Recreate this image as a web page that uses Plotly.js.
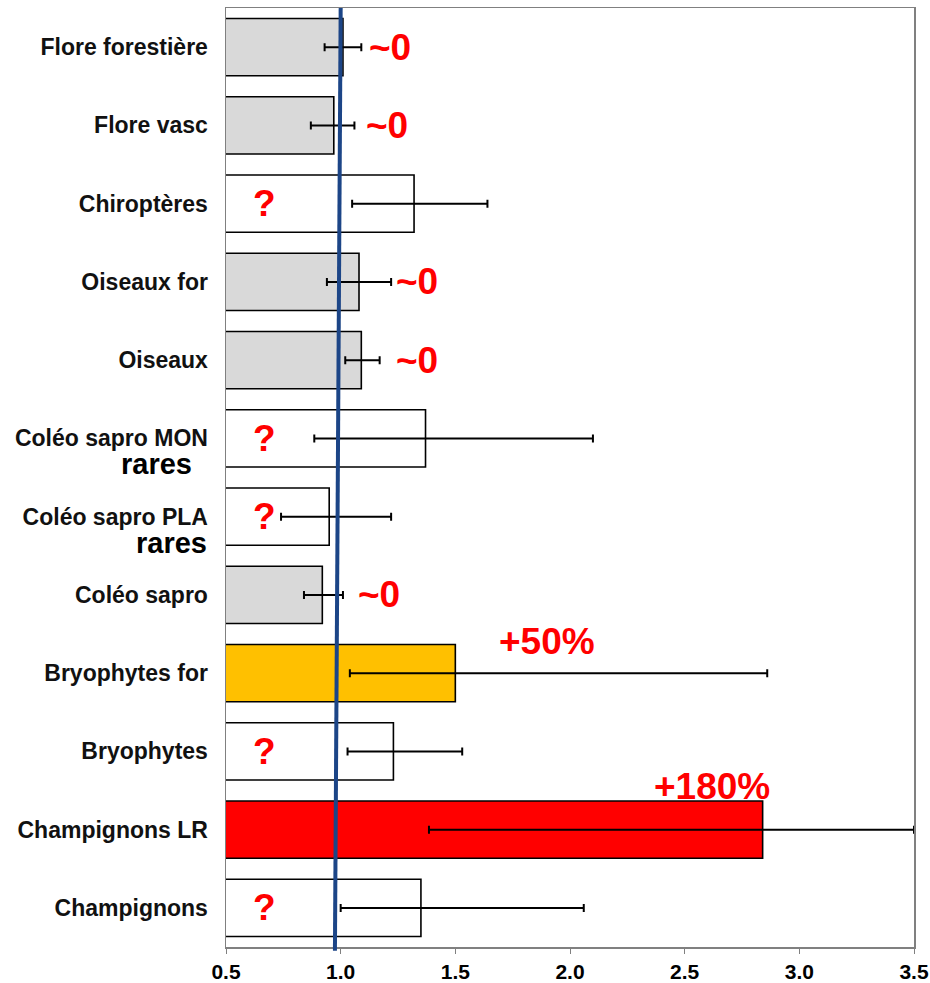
<!DOCTYPE html>
<html>
<head>
<meta charset="utf-8">
<script src="https://cdn.plot.ly/plotly-3.0.1.min.js"></script>
<style>html,body{margin:0;padding:0;background:#fff;}#chart{width:930px;height:983px;}</style>
</head>
<body>
<div id="chart"></div>
<script>
// Categories from top to bottom
const categories = ["Flore forestière","Flore vasc","Chiroptères","Oiseaux for","Oiseaux",
  "Coléo sapro MON","Coléo sapro PLA","Coléo sapro","Bryophytes for","Bryophytes",
  "Champignons LR","Champignons"];
const values   = [1.01, 0.97, 1.32, 1.08, 1.09, 1.37, 0.95, 0.92, 1.50, 1.23, 2.84, 1.35];
const errLow   = [0.93, 0.87, 1.05, 0.94, 1.02, 0.885, 0.74, 0.84, 1.04, 1.03, 1.385, 1.00];
const errHigh  = [1.09, 1.06, 1.64, 1.22, 1.17, 2.10, 1.22, 1.01, 2.86, 1.53, 3.50, 2.06];
const barColors = ["#d9d9d9","#d9d9d9","#ffffff","#d9d9d9","#d9d9d9","#ffffff","#ffffff",
  "#d9d9d9","#ffc000","#ffffff","#ff0000","#ffffff"];
const xTicks = [0.5, 1.0, 1.5, 2.0, 2.5, 3.0, 3.5];
const xTickLabels = ["0.5","1.0","1.5","2.0","2.5","3.0","3.5"];
const refLine = [1.0, 0.975];

// Red verdict labels
const verdictText = ["~0","~0","?","~0","~0","?","?","~0","+50%","?","+180%","?"];
const verdictX    = [1.215, 1.20, 0.666, 1.333, 1.333, 0.666, 0.666, 1.167, 1.90, 0.666, 2.62, 0.666];
const verdictShift= [0, 0, 0, 0, 0, 0, 0, 0, 32, 0, 43, 0];

// Secondary label lines
const subLabelCats = ["Coléo sapro MON","Coléo sapro PLA"];
const subLabelText = ["rares","rares"];
const subLabelRight = [194, 209];

const W = 930, H = 983;
const mL = 226, mR = 16, mT = 8, mB = 36;
const plotW = W - mL - mR;

const trace = {
  type: 'bar',
  orientation: 'h',
  y: categories,
  x: values,
  base: 0,
  marker: {color: barColors, line: {color: '#000000', width: 1.6}},
  error_x: {
    type: 'data', symmetric: false,
    array: values.map((v,i)=>errHigh[i]-v),
    arrayminus: values.map((v,i)=>v-errLow[i]),
    color: '#000000', thickness: 2, width: 4
  },
  hoverinfo: 'skip'
};

const annotations = [];
categories.forEach((c,i)=>{
  annotations.push({
    x: verdictX[i], y: c, xref: 'x', yref: 'y', text: verdictText[i],
    showarrow: false, xanchor: 'center', yanchor: 'middle', yshift: verdictShift[i],
    font: {family: 'Liberation Sans, Arial, sans-serif', size: 37, color: '#ff0000', weight: 'bold'}
  });
});
subLabelCats.forEach((c,i)=>{
  annotations.push({
    x: (subLabelRight[i]-mL)/plotW, y: c, xref: 'paper', yref: 'y', text: subLabelText[i],
    showarrow: false, xanchor: 'right', yanchor: 'middle', yshift: -26,
    font: {family: 'Liberation Sans, Arial, sans-serif', size: 29, color: '#000000', weight: 'bold'}
  });
});

const layout = {
  width: W, height: H,
  margin: {l: mL, r: mR, t: mT, b: mB, pad: 0},
  paper_bgcolor: '#ffffff', plot_bgcolor: '#ffffff',
  showlegend: false,
  bargap: 0.27,
  xaxis: {
    range: [0.5, 3.5], tickvals: xTicks, ticktext: xTickLabels,
    showgrid: false, zeroline: false,
    showline: true, linecolor: '#808080', linewidth: 1.5, mirror: true,
    ticks: 'outside', ticklen: 5, tickcolor: '#808080', tickwidth: 1,
    tickfont: {family: 'Liberation Sans Narrow, Liberation Sans, Arial, sans-serif', size: 21, color: '#000000', weight: 'bold'}
  },
  yaxis: {
    type: 'category', categoryorder: 'array', categoryarray: categories,
    autorange: 'reversed',
    showgrid: false, zeroline: false,
    showline: true, linecolor: '#808080', linewidth: 1.5, mirror: true,
    ticks: '', ticklabelstandoff: 12,
    tickfont: {family: 'Liberation Sans, Arial, sans-serif', size: 23, color: '#111111', weight: 'bold'}
  },
  shapes: [{
    type: 'line', xref: 'x', yref: 'paper',
    x0: refLine[0], x1: refLine[1], y0: 1, y1: -0.004,
    line: {color: '#1c4587', width: 4}
  }],
  annotations: annotations
};

Plotly.newPlot('chart', [trace], layout, {staticPlot: true, displayModeBar: false});
</script>
</body>
</html>
